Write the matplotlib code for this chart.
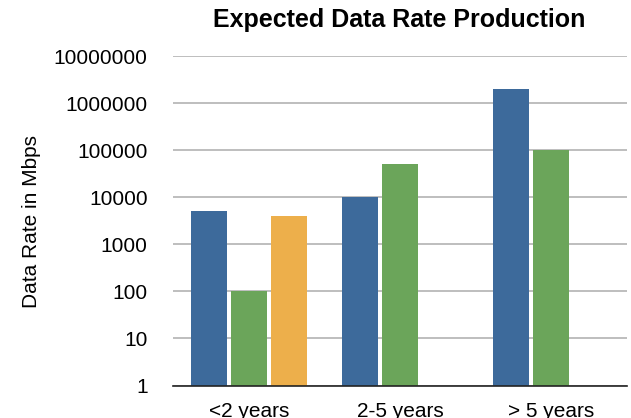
import numpy as np
import matplotlib.pyplot as plt

plt.rcParams['font.family'] = ['Liberation Sans', 'DejaVu Sans']

categories = ['<2 years', '2-5 years', '> 5 years']
series_a = [5000, 10000, 2000000]
series_b = [100, 50000, 100000]
series_c = [4000, np.nan, np.nan]
colors = ['#3d6a9b', '#6ba55a', '#edaf4b']

fig = plt.figure(figsize=(6.31, 4.18), dpi=100)
ax = fig.add_axes([173.3/631, 1 - 385.5/418, (626.7 - 173.3)/631, (385.5 - 56)/418])

x = np.arange(len(categories))
off = 0.265
w = 0.238
for i, (vals, c) in enumerate(zip([series_a, series_b, series_c], colors)):
    ax.bar(x + (i - 1) * off, vals, width=w, color=c, zorder=3)

ax.set_yscale('log')
ax.set_ylim(1, 1e7)
ax.set_xlim(-0.5, 2.5)
ax.set_yticks([10**k for k in range(8)])
ax.set_yticklabels([str(10**k) for k in range(8)], fontsize=15)
ax.minorticks_off()
ax.set_xticks(x)
ax.set_xticklabels(categories, fontsize=15)
ax.tick_params(length=0)
ax.tick_params(axis='x', pad=12)
ax.tick_params(axis='y', pad=18.5)
ax.grid(axis='y', color='#b3b3b3', linewidth=1.2, zorder=0)
for s in ['top', 'right', 'left']:
    ax.spines[s].set_visible(False)
ax.spines['bottom'].set_color('#222222')
ax.spines['bottom'].set_linewidth(1.2)
ax.spines['bottom'].set_zorder(4)

fig.text(399/631, 1 - 19.5/418, 'Expected Data Rate Production', ha='center', va='center',
         fontsize=18, fontweight='bold')
fig.text(32/631, 1 - 221/418, 'Data Rate in Mbps', rotation=90, ha='center', va='center',
         fontsize=15)

fig.savefig('out.png', dpi=100)
